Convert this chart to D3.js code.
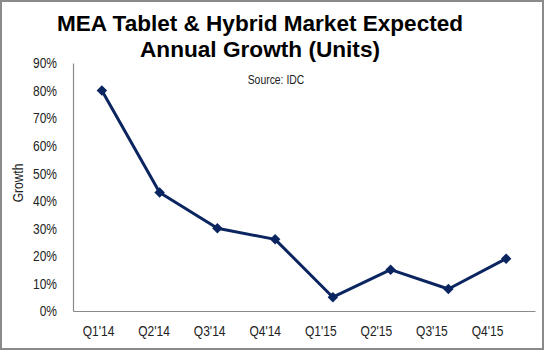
<!DOCTYPE html>
<html>
<head>
<meta charset="utf-8">
<script src="https://cdn.jsdelivr.net/npm/d3@7"></script>
<style>
  body { margin: 0; background: #fff; }
  svg { display: block; }
  .tick-label { font-family: "Liberation Sans", Arial, sans-serif; font-size: 15px; fill: #222; }
</style>
</head>
<body>
<svg width="545" height="351"></svg>
<script>
// data
let quarters = ["Q1'14", "Q2'14", "Q3'14", "Q4'14", "Q1'15", "Q2'15", "Q3'15", "Q4'15"];
let growth = [80, 43, 30, 26, 5, 15, 8, 19];
let yTicks = [0, 10, 20, 30, 40, 50, 60, 70, 80, 90];

let dataset = quarters.map((q, i) => ({ quarter: q, value: growth[i] }));

// squeeze text horizontally to mimic the condensed font of the original
function narrow(sel, k) {
  sel.each(function() {
    let w = this.getComputedTextLength();
    d3.select(this).attr('textLength', w * k).attr('lengthAdjust', 'spacingAndGlyphs');
  });
}

let svg = d3.select('svg');

// outer frame
svg.append('rect')
  .attr('x', 1).attr('y', 1)
  .attr('width', 542).attr('height', 348)
  .attr('fill', '#fff')
  .attr('stroke', '#8a8a8a')
  .attr('stroke-width', 2);

let margin = {top: 63, left: 73},
width = 535 - margin.left,
height = 311 - margin.top;

let xScale = d3.scaleBand().domain(quarters).range([0, width]).padding(0);
// the category labels sit a bit left of the points in the original
let labelScale = d3.scalePoint().domain(quarters).range([25, 414]);
let yScale = d3.scaleLinear().domain([0, 90]).range([height, 0]);

let g = svg.append('g')
  .attr('transform', `translate(${margin.left}, ${margin.top})`);

// title
let title = svg.append('text')
  .attr('text-anchor', 'middle')
  .attr('font-family', '"Liberation Sans", Arial, sans-serif')
  .attr('font-weight', 'bold')
  .attr('font-size', 22)
  .attr('fill', '#000');
title.append('tspan').attr('x', 260).attr('y', 31)
  .attr('textLength', 406).attr('lengthAdjust', 'spacingAndGlyphs')
  .text('MEA Tablet & Hybrid Market Expected');
title.append('tspan').attr('x', 260).attr('y', 57)
  .attr('textLength', 240).attr('lengthAdjust', 'spacingAndGlyphs')
  .text('Annual Growth  (Units)');

svg.append('text')
  .attr('class', 'tick-label')
  .attr('x', 276).attr('y', 84)
  .attr('text-anchor', 'middle')
  .style('font-size', '13px')
  .text('Source: IDC')
  .call(narrow, 0.8);

// y axis
let yAxis = g.append('g')
  .call(d3.axisLeft(yScale).tickValues(yTicks).tickSize(0).tickPadding(16).tickFormat(d => d + '%'));
yAxis.select('.domain').attr('stroke', '#8a8a8a').attr('stroke-width', 1.2);
yAxis.selectAll('text').attr('class', 'tick-label').attr('font-family', null).attr('font-size', null)
  .call(narrow, 0.8);

// x axis line
let xAxis = g.append('g')
  .attr('transform', `translate(0,${height})`)
  .call(d3.axisBottom(xScale).tickSize(0).tickFormat(''));
xAxis.select('.domain').attr('stroke', '#8a8a8a').attr('stroke-width', 1.2);

// x labels
let xLabels = g.append('g')
  .attr('transform', `translate(0,${height})`)
  .call(d3.axisBottom(labelScale).tickSize(0).tickPadding(14));
xLabels.select('.domain').remove();
xLabels.selectAll('text').attr('class', 'tick-label').attr('font-family', null).attr('font-size', null)
  .call(narrow, 0.8);

// axis title
svg.append('text')
  .attr('class', 'tick-label')
  .attr('transform', 'translate(23,183) rotate(-90)')
  .attr('text-anchor', 'middle')
  .style('font-size', '15px')
  .text('Growth')
  .call(narrow, 0.8);

// line
let line = d3.line()
  .x(d => xScale(d.quarter) + xScale.bandwidth() / 2)
  .y(d => yScale(d.value));

g.append('path')
  .datum(dataset)
  .attr('fill', 'none')
  .attr('stroke', '#0b2560')
  .attr('stroke-width', 3)
  .attr('stroke-linejoin', 'round')
  .attr('d', line);

// diamond markers
g.selectAll('.marker')
  .data(dataset)
  .enter().append('path')
  .attr('class', 'marker')
  .attr('d', d3.symbol().type(d3.symbolDiamond2).size(70))
  .attr('transform', d => `translate(${xScale(d.quarter) + xScale.bandwidth() / 2},${yScale(d.value)})`)
  .attr('fill', '#0b2560');
</script>
</body>
</html>
